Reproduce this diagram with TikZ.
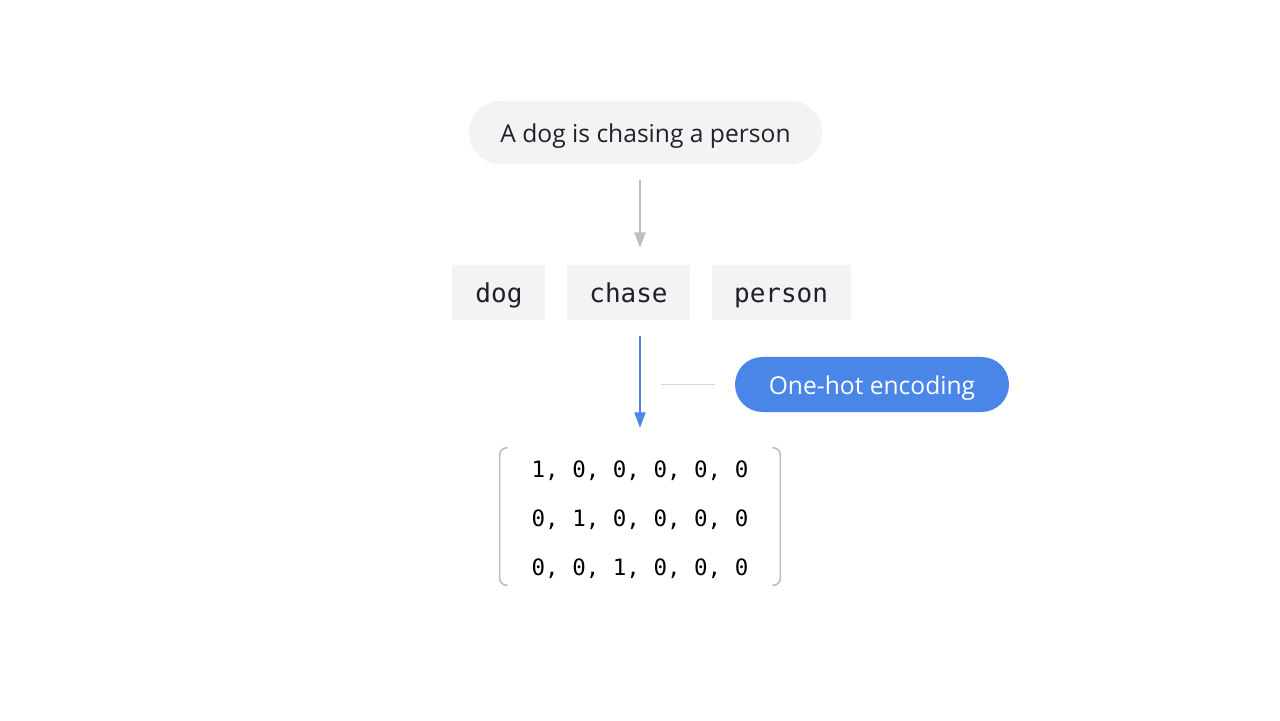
\documentclass[tikz,border=0pt]{standalone}
\usepackage{fontspec}
\setsansfont{Open Sans}
\setmonofont{DejaVu Sans Mono}
\usetikzlibrary{arrows.meta, positioning}
\definecolor{pillgray}{HTML}{F1F3F4}
\definecolor{arrowgray}{HTML}{BDBDBD}
\definecolor{linegray}{HTML}{D6D6D6}
\definecolor{googleblue}{HTML}{4A86E8}
\definecolor{inkgray}{HTML}{202124}
\tikzstyle{pill}=[inner sep=0pt, minimum height=1.375cm, rounded corners=0.6875cm, text height=17.5pt, text depth=3.5pt, font=\sffamily\fontsize{17.5}{21}\selectfont]
\tikzstyle{sentencepill}=[pill, fill=pillgray, text=inkgray, minimum width=8.825cm, minimum height=1.575cm, rounded corners=0.7875cm]
\tikzstyle{encodingpill}=[pill, fill=googleblue, text=white, minimum width=6.85cm]
\tikzstyle{token}=[fill=pillgray, text=inkgray, inner sep=0pt, minimum height=1.375cm, text height=18pt, text depth=4pt, font=\ttfamily\fontsize{18.5}{22}\selectfont]
\tikzstyle{flow}=[line width=1.3pt, -{Triangle[width=8pt, length=11pt]}]
\tikzstyle{bracket}=[draw=arrowgray, line width=1.1pt, rounded corners=5pt]

\begin{document}
\begin{tikzpicture}
    \useasboundingbox [fill=white] (0,0) rectangle (32,18);
    \coordinate (axis) at (16,0);
    \node [sentencepill] (sentence) at (16.1375,14.6875) {A dog is chasing a person};
    \node [token, minimum width=3.075cm] (chase) at (15.7125,10.6875) {chase};
    \node [token, minimum width=2.325cm, left=0.525cm of chase] (dog) {dog};
    \node [token, minimum width=3.475cm, right=0.525cm of chase] (person) {person};
    \node [encodingpill] (encoding) at (21.8,8.3875) {One-hot encoding};
    \node [minimum width=7cm, minimum height=3.425cm, align=center, text=black,
           font=\ttfamily\fontsize{16}{34.85}\selectfont] (onehot) at (16,5.0875)
        {\rule{0pt}{16pt}1, 0, 0, 0, 0, 0\\0, 1, 0, 0, 0, 0\\0, 0, 1, 0, 0, 0};
    \draw [flow, color=arrowgray, shorten <=0.4cm, shorten >=0.425cm] (sentence.south -| axis) -- (chase.north -| axis);
    \draw [flow, color=googleblue, shorten <=0.4cm, shorten >=0.5cm] (chase.south -| axis) -- (onehot.north -| axis);
    \draw [linegray, line width=0.8pt, shorten <=0.5cm, shorten >=0.525cm] (encoding.west) -- (encoding.west -| axis);
    \draw [bracket] ([xshift=0.2cm]onehot.north west) -- (onehot.north west) -- (onehot.south west) -- ++(0.2cm,0);
    \draw [bracket] ([xshift=-0.2cm]onehot.north east) -- (onehot.north east) -- (onehot.south east) -- ++(-0.2cm,0);
\end{tikzpicture}
\end{document}
